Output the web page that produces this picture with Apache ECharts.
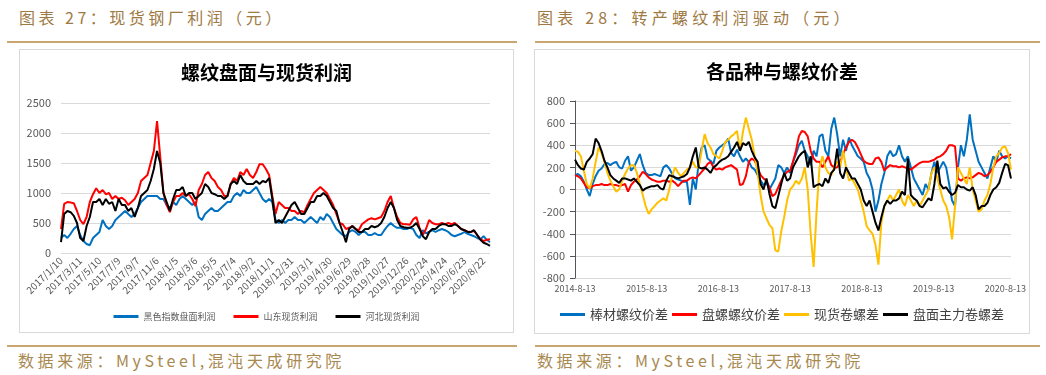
<!DOCTYPE html>
<html>
<head>
<meta charset="utf-8">
<script src="https://cdn.jsdelivr.net/npm/echarts@6/dist/echarts.min.js"></script>
<style>
  body { margin: 0; width: 1046px; height: 375px; background: #fff; position: relative; overflow: hidden;
         font-family: "Noto Sans CJK SC", sans-serif; }
  .hdr { position: absolute; top: 7px; font-size: 16px; line-height: 20px; letter-spacing: 3.5px; color: #a07a45; }
  .src { position: absolute; top: 350px; font-size: 16px; line-height: 20px; letter-spacing: 3.6px; color: #a8894f; }
  .rule { position: absolute; height: 0; border-top: 2px solid #c8a670; }
  .box { position: absolute; border: 1px solid #d9d9d9; box-sizing: border-box; }
</style>
</head>
<body>
<div class="hdr" style="left:19px">图表 27：现货钢厂利润（元）</div>
<div class="hdr" style="left:537px; letter-spacing:4.2px">图表 28：转产螺纹利润驱动（元）</div>
<div class="rule" style="left:7px; top:41px; width:510px"></div>
<div class="rule" style="left:535px; top:41px; width:505px"></div>
<div class="box" id="left" style="left:19px; top:49px; width:495px; height:284px"></div>
<div class="box" id="right" style="left:534px; top:49px; width:496px; height:285px"></div>
<div class="rule" style="left:7px; top:345px; width:510px"></div>
<div class="rule" style="left:535px; top:345px; width:505px"></div>
<div class="src" style="left:18px">数据来源：MySteel,混沌天成研究院</div>
<div class="src" style="left:537px">数据来源：MySteel,混沌天成研究院</div>

<script>
  // ---- 图表27 数据：2017/1/10 起每10天一个点 ----
  const leftStart = Date.UTC(2017, 0, 10)
  const leftCount = 135
  const leftDates = []
  for (let i = 0; i < leftCount; i++) {
    const d = new Date(leftStart + i * 10 * 86400000)
    leftDates.push(d.getUTCFullYear() + '/' + (d.getUTCMonth() + 1) + '/' + d.getUTCDate())
  }

  const heiseProfit = [
    250, 300, 250, 320, 400, 450,
    300, 200, 150, 130, 250, 300,
    350, 550, 450, 400, 450, 550,
    600, 650, 700, 650, 600, 650,
    750, 850, 900, 950, 950, 950,
    950, 900, 900, 800, 750, 850,
    800, 900, 950, 900, 850, 800,
    850, 600, 550, 650, 700, 750,
    700, 700, 750, 800, 850, 850,
    950, 1000, 950, 1050, 1000, 1000,
    1050, 1100, 1000, 900, 850, 900,
    850, 550, 500, 550, 500, 550,
    550, 600, 550, 550, 500, 550,
    600, 550, 500, 600, 550, 650,
    600, 500, 400, 350, 300, 280,
    350, 380, 350, 300, 350, 350,
    300, 300, 330, 300, 300, 380,
    450, 500, 450, 420, 420, 400,
    400, 420, 400, 300, 250, 380,
    330, 350, 380, 350, 380, 400,
    380, 350, 300, 280, 300, 320,
    350, 320, 300, 280, 250, 230,
    280, 220, 180
  ]
  const shandongProfit = [
    400, 820, 850, 840, 830, 700,
    550, 480, 600, 850, 980, 1080,
    1000, 1050, 980, 1000, 900, 950,
    900, 920, 880, 800, 850, 900,
    1000, 1200, 1250, 1300, 1500, 1700,
    2200, 1600, 1000, 800, 680, 850,
    950, 950, 1000, 950, 980, 900,
    780, 1050, 1150, 1300, 1350, 1250,
    1200, 1100, 1050, 950, 950, 1150,
    1250, 1200, 1350, 1300, 1400, 1300,
    1250, 1350, 1480, 1480, 1400, 1300,
    950, 650, 850, 800, 750, 750,
    700, 700, 650, 700, 680, 800,
    900, 1000, 1050, 1100, 1050, 1000,
    900, 800, 650, 500, 480, 400,
    420, 450, 400, 380, 480, 520,
    560, 580, 560, 580, 600, 700,
    850, 950, 750, 600, 500, 480,
    480, 470, 560, 600, 420, 300,
    400, 550, 500, 480, 480, 500,
    480, 500, 480, 500, 450, 400,
    380, 360, 350, 370, 300, 230,
    200, 220, 230
  ]
  const hebeiProfit = [
    180, 650, 700, 680, 620, 500,
    250, 200, 450, 600, 850, 850,
    900, 800, 900, 820, 850, 700,
    900, 800, 800, 700, 750, 600,
    750, 950, 1000, 1050, 1200, 1400,
    1700, 1500, 1000, 850, 700, 900,
    1050, 1050, 1100, 950, 1000, 1000,
    900, 950, 1000, 1150, 1100, 1000,
    980, 950, 950, 900, 950, 1150,
    1200, 1150, 1300, 1200, 1150, 1150,
    1150, 1200, 1150, 1200, 1180, 1250,
    900, 500, 550, 500, 600, 700,
    800, 850, 750, 650, 650, 750,
    850, 850, 950, 950, 1000, 950,
    850, 750, 700, 500, 350, 180,
    400, 450, 400, 350, 350, 400,
    400, 450, 430, 450, 500, 600,
    750, 850, 750, 550, 450, 430,
    420, 420, 450, 500, 400, 280,
    230, 350, 400, 400, 450, 480,
    480, 450, 450, 480, 450, 400,
    380, 350, 350, 380, 300, 220,
    170, 150, 120
  ]

  // ---- 图表28 数据：2014-8-13 起每15天一个点 ----
  const rightStep = 15
  const yearLen = 365.25
  const rightYears = ['2014-8-13', '2015-8-13', '2016-8-13', '2017-8-13', '2018-8-13', '2019-8-13', '2020-8-13']

  const bangcaiSpread = [
    130, 140, 120, 70, 0, -60, 50, 120, 170, 190,
    230, 240, 220, 240, 250, 200, 190, 260, 300, 170,
    200, 260, 320, 220, 150, 130, 130, 140, 130, 120,
    200, 220, 190, 140, 100, 90, 80, 70, 70, -140,
    100, 0, 250, 380, 400, 280, 260, 230, 350, 380,
    400, 420, 460, 330, 300, 360, 300, 250, 280, 250,
    200, 180, 130, 80, 40, 60, 0, 50, 100, 220,
    200, 150, 200, 150, 250, 320, 400, 440, 350, 300,
    220, 350, 300, 480, 500, 350, 300, 550, 650, 500,
    300, 450, 350, 470, 400, 350, 300, 280, 250, 150,
    100, 0, -200, -100, 50, 150, 300, 350, 300, 320,
    400, 300, 250, 300, 200, 100, 50, 0, -50, 50,
    0, 150, 250, 150, 200, 250, 200, 50, -100, -150,
    200, 400, 300, 450, 680, 450, 350, 250, 200, 150,
    100, 200, 300, 250, 350, 300, 280, 300, 280
  ]
  const panluoSpread = [
    130, 120, 100, 60, 20, 10, 30, 40, 40, 50,
    40, 40, 50, 40, 40, 30, 40, 50, -20, 40,
    70, 90, 120, 160, 140, 110, 90, 80, 70, 70,
    80, 80, 70, 80, 60, 30, 60, 80, 80, 100,
    110, 100, 130, 160, 190, 230, 250, 200, 180, 190,
    180, 200, 210, 220, 200, 180, 40, 50, 120, 250,
    280, 260, 200, 130, 100, 80, 20, -60, -40, 20,
    80, 130, 160, 170, 250, 350, 480, 530, 520, 480,
    350, 280, 250, 250, 200, 250, 300, 220, 200, 200,
    250, 320, 380, 430, 450, 430, 380, 320, 260, 240,
    230, 230, 280, 290, 250, 170, 200, 220, 210, 210,
    200, 210, 200, 190, 180, 200, 220, 240, 250, 250,
    250, 260, 270, 290, 300, 320, 350, 400, 400, 390,
    100, 80, 100, 110, 100, 110, 130, 150, 140, 120,
    130, 160, 200, 250, 270, 290, 300, 300, 320
  ]
  const xianhuoJuanluo = [
    350, 340, 300, 170, 50, 10, 100, 250, 380, 330,
    250, 150, 80, 30, -20, 0, 80, 140, 190, 220,
    220, 150, 50, -50, -150, -220, -180, -150, -120, -100,
    -80, -100, 0, 130, 200, 150, 120, 150, 180, 200,
    250, 200, 200, 350, 500, 420, 380, 320, 300, 280,
    350, 430, 450, 480, 500, 530, 350, 520, 650, 550,
    450, 300, 150, -50, -200, -260, -320, -350, -550, -560,
    -380, -250, -100, 0, 30, 80, 50, 100, 200, 0,
    -400, -700, -200, 200, 300, 200, 150, 130, 200, 250,
    200, 350, 200, 80, 100, 50, 0, -100, -200, -330,
    -370, -400, -500, -680, -300, -150, -100, -50, -100, -50,
    0, -100, -150, -50, -100, -150, -100, -150, -100, -50,
    0, 150, 200, 100, 0, -100, -150, -250, -450, -150,
    200, 150, 100, 50, 200, 0, -100, -200, -180, -100,
    -50, 50, 200, 300, 330, 380, 390, 330, 180
  ]
  const panmianJuanluo = [
    270, 220, 190, 180, 250, 280, 320, 460, 420, 350,
    260, 200, 130, 100, 80, 60, 100, 100, 90, 80,
    100, 70, 40, -10, 10, 20, 30, 30, 40, 10,
    0, 80, 130, 120, 110, 100, 110, 120, 140, 200,
    300, 380, 200, 190, 200, 180, 150, 200, 220, 250,
    270, 280, 300, 340, 380, 430, 350, 420, 400, 430,
    350, 290, 250, 50, 0, 100, -40, -150, -170, -60,
    50, 150, 80, 100, 200, 250, 300, 330, 350, 200,
    300, 20, 40, 50, 30, 100, 60, 150, 180, 370,
    150, 100, 200, 150, 100, 100, 50, 0, -100, -150,
    -100, -200, -300, -370, -250, -150, -100, -130, -100, -100,
    -80, -20, -50, 280, -50, -80, -100, -150, -160, -120,
    -80, -100, 50, 260, 50, 10, 20, -20, -50, -30,
    40, 20, 20, 0, -10, 20, -50, -180, -150, -150,
    -120, -50, 0, 20, 60, 150, 230, 220, 100
  ]

  const axisGray = '#595959'
  const gridGray = '#d9d9d9'
  const font = '"Noto Sans CJK SC", sans-serif'

  const lineSeries = (name, data, color) => ({
    name,
    type: 'line',
    data,
    showSymbol: false,
    lineStyle: { color, width: 2 },
    itemStyle: { color }
  })

  const chartL = echarts.init(document.getElementById('left'), null, { renderer: 'canvas' })
  chartL.setOption({
    animation: false,
    textStyle: { fontFamily: font },
    title: {
      text: '螺纹盘面与现货利润',
      left: 'center',
      top: 13,
      padding: 0,
      textStyle: { fontSize: 19, fontWeight: 'bold', color: '#000', fontFamily: font }
    },
    legend: {
      top: 262,
      left: 'center',
      padding: 0,
      icon: 'rect',
      itemWidth: 25,
      itemHeight: 3,
      itemGap: 18,
      textStyle: { fontSize: 9, color: axisGray, fontFamily: font }
    },
    grid: { left: 41, right: 23, top: 53, bottom: 79 },
    xAxis: {
      type: 'category',
      data: leftDates,
      boundaryGap: false,
      axisLine: { show: false },
      axisTick: { show: false },
      axisLabel: { interval: 5, rotate: 45, fontSize: 10, color: axisGray, margin: 6 }
    },
    yAxis: {
      type: 'value',
      min: 0,
      max: 2500,
      interval: 500,
      axisLabel: { fontSize: 11, color: axisGray, margin: 10, formatter: v => String(v) },
      splitLine: { lineStyle: { color: gridGray, width: 1 } }
    },
    series: [
      lineSeries('黑色指数盘面利润', heiseProfit, '#0070c0'),
      lineSeries('山东现货利润', shandongProfit, '#ff0000'),
      lineSeries('河北现货利润', hebeiProfit, '#000000')
    ]
  })

  const toXY = arr => arr.map((v, i) => [i * rightStep, v])

  const chartR = echarts.init(document.getElementById('right'), null, { renderer: 'canvas' })
  chartR.setOption({
    animation: false,
    textStyle: { fontFamily: font },
    title: {
      text: '各品种与螺纹价差',
      left: 'center',
      top: 12,
      padding: 0,
      textStyle: { fontSize: 19, fontWeight: 'bold', color: '#000', fontFamily: font }
    },
    legend: {
      top: 258,
      left: 'center',
      padding: 0,
      icon: 'rect',
      itemWidth: 25,
      itemHeight: 3,
      itemGap: 4,
      itemTextGap: 3,
      textStyle: { fontSize: 13, color: '#404040', fontFamily: font }
    },
    grid: { left: 40, right: 13, top: 51, bottom: 55 },
    xAxis: {
      type: 'value',
      min: 0,
      max: (bangcaiSpread.length - 1) * rightStep,
      interval: yearLen,
      axisLine: { show: false, onZero: false },
      axisTick: { show: false },
      splitLine: { show: false },
      axisLabel: {
        fontSize: 9,
        color: axisGray,
        margin: 6,
        showMaxLabel: false,
        formatter: v => {
          const k = Math.round(v / yearLen)
          return Math.abs(v / yearLen - k) < 0.01 ? rightYears[k] || '' : ''
        }
      }
    },
    yAxis: {
      type: 'value',
      min: -800,
      max: 800,
      interval: 200,
      axisLabel: { fontSize: 11, color: axisGray, margin: 10 },
      splitLine: { lineStyle: { color: gridGray, width: 1 } }
    },
    series: [
      lineSeries('棒材螺纹价差', toXY(bangcaiSpread), '#0070c0'),
      lineSeries('盘螺螺纹价差', toXY(panluoSpread), '#ff0000'),
      lineSeries('现货卷螺差', toXY(xianhuoJuanluo), '#ffc000'),
      lineSeries('盘面主力卷螺差', toXY(panmianJuanluo), '#000000')
    ]
  })
</script>
</body>
</html>
